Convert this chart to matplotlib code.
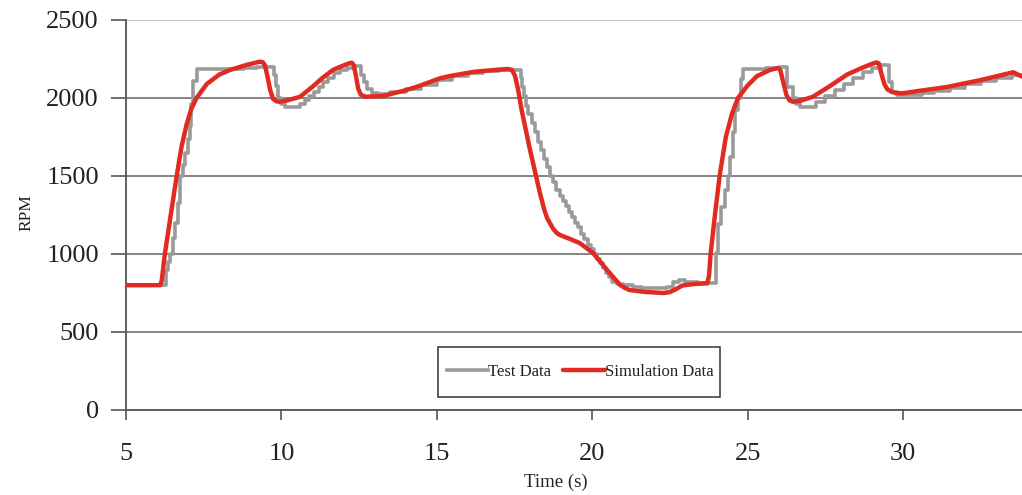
import matplotlib
matplotlib.use("Agg")
import matplotlib.pyplot as plt
from matplotlib.patches import Rectangle

# Engine speed test record (sampled, drawn as steps)
test_time = [5.0, 6.30, 6.36, 6.42, 6.50, 6.58, 6.66, 6.74, 6.82, 6.90, 6.98, 7.06,
             7.10, 7.16, 7.27, 8.00, 8.80, 9.20, 9.75, 9.82, 9.90, 10.00, 10.10,
             10.60, 10.75, 10.90, 11.05, 11.20, 11.35, 11.50, 11.70, 11.90, 12.10,
             12.35, 12.55, 12.65, 12.75, 12.90, 13.10, 13.50, 14.00, 14.50, 15.00,
             15.50, 16.00, 16.50, 17.00, 17.70, 17.75, 17.80, 17.88, 17.95, 18.05,
             18.15, 18.25, 18.35, 18.45, 18.55, 18.65, 18.75, 18.85, 18.95, 19.05,
             19.15, 19.25, 19.35, 19.45, 19.55, 19.65, 19.75, 19.85, 19.95, 20.05,
             20.15, 20.25, 20.35, 20.45, 20.55, 20.65, 20.80, 21.00, 21.30, 21.60,
             22.00, 22.40, 22.60, 22.80, 23.00, 23.40, 23.99, 24.05, 24.16, 24.26,
             24.37, 24.45, 24.53, 24.60, 24.70, 24.78, 24.85, 25.60, 26.00, 26.27,
             26.45, 26.55, 26.70, 26.85, 27.20, 27.50, 27.80, 28.10, 28.40, 28.70,
             29.00, 29.30, 29.55, 29.65, 29.80, 30.10, 30.60, 31.00, 31.50, 32.00,
             32.50, 33.00, 33.50, 33.90]
test_rpm = [800, 900, 950, 1000, 1100, 1200, 1330, 1500, 1570, 1650, 1740, 1820,
            1960, 2110, 2185, 2188, 2192, 2200, 2150, 2080, 2000, 1960, 1940,
            1960, 1990, 2010, 2040, 2070, 2100, 2130, 2160, 2180, 2195,
            2205, 2150, 2100, 2060, 2030, 2025, 2040, 2060, 2085, 2115,
            2140, 2160, 2175, 2182, 2130, 2070, 2010, 1950, 1900, 1840,
            1780, 1720, 1665, 1610, 1560, 1500, 1460, 1410, 1370, 1340,
            1305, 1270, 1235, 1200, 1170, 1130, 1095, 1060, 1035, 1000,
            970, 940, 910, 880, 850, 820, 810, 800, 790, 780,
            780, 790, 820, 835, 822, 812, 1006, 1190, 1300, 1410,
            1500, 1620, 1780, 1920, 2000, 2120, 2188, 2190, 2198, 2070,
            2000, 1960, 1942, 1945, 1975, 2010, 2050, 2090, 2130, 2168,
            2190, 2212, 2100, 2040, 2020, 2019, 2030, 2045, 2065, 2090,
            2110, 2130, 2148, 2150]

# Model output
sim_time = [5.0, 6.10, 6.15, 6.25, 6.44, 6.63, 6.79, 6.95, 7.10, 7.27, 7.60, 8.00,
            8.35, 8.88, 9.20, 9.31, 9.40, 9.47, 9.55, 9.64, 9.73, 9.85, 9.95,
            10.20, 10.60, 11.00, 11.30, 11.66, 11.95, 12.20, 12.27, 12.33, 12.40,
            12.47, 12.56, 12.70, 13.27, 14.00, 14.36, 15.10, 15.40, 16.20, 17.00,
            17.30, 17.42, 17.52, 17.62, 17.73, 18.00, 18.32, 18.45, 18.55, 18.64,
            18.75, 18.86, 18.96, 19.30, 19.60, 20.03, 20.48, 20.90, 21.05, 21.20,
            21.70, 22.30, 22.50, 22.70, 22.90, 23.30, 23.70, 23.76, 23.81, 23.95,
            24.10, 24.30, 24.50, 24.69, 25.00, 25.30, 25.72, 25.98, 26.05, 26.15,
            26.25, 26.35, 26.46, 26.70, 27.10, 27.60, 28.20, 28.70, 29.05, 29.15,
            29.22, 29.30, 29.40, 29.50, 29.65, 29.80, 30.00, 30.50, 31.40, 32.50,
            33.55, 33.83]
sim_rpm = [800, 800, 830, 1000, 1250, 1500, 1690, 1830, 1930, 2000, 2090, 2150,
           2180, 2212, 2228, 2233, 2230, 2210, 2140, 2050, 1995, 1978, 1976,
           1985, 2008, 2072, 2125, 2180, 2205, 2224, 2226, 2210, 2140,
           2060, 2020, 2008, 2013, 2050, 2072, 2126, 2140, 2168, 2182,
           2186, 2180, 2140, 2050, 1923, 1667, 1390, 1290, 1230, 1198,
           1160, 1135, 1122, 1095, 1070, 1006, 897, 801, 783, 769,
           757, 750, 756, 775, 798, 808, 812, 860, 1000, 1250,
           1500, 1750, 1900, 2000, 2080, 2140, 2180, 2192, 2180, 2100,
           2020, 1985, 1976, 1982, 2008, 2070, 2150, 2195, 2222, 2228,
           2222, 2160, 2090, 2055, 2038, 2032, 2030, 2045, 2070, 2115,
           2165, 2137]

x_ticks = [5, 10, 15, 20, 25, 30]
y_ticks = [0, 500, 1000, 1500, 2000, 2500]

serif = ["Liberation Serif", "DejaVu Serif"]
W, H = 1022, 495

fig = plt.figure(figsize=(W / 100, H / 100), dpi=100)
ax = fig.add_axes([126 / W, 1 - 410 / H, 1 - 126 / W, 390 / H])

ax.plot(test_time, test_rpm, drawstyle="steps-post", color="#9a9a9a",
        lw=2.6, label="Test Data", zorder=3)
ax.plot(sim_time, sim_rpm, color="#e02a22", lw=3.2, label="Simulation Data",
        zorder=4, solid_capstyle="round", solid_joinstyle="round")

ax.set_xlim(5, 33.83)
ax.set_ylim(0, 2500)
ax.set_xticks(x_ticks)
ax.set_yticks(y_ticks)

for side in ("top", "right"):
    ax.spines[side].set_visible(False)
for side in ("left", "bottom"):
    ax.spines[side].set_color("#555555")
    ax.spines[side].set_linewidth(1.3)

ax.yaxis.grid(True, color="#707070", lw=1.2)
ax.get_ygridlines()[-1].set_color("#b8b8b8")
ax.set_axisbelow(True)

ax.tick_params(axis="x", direction="out", length=7, width=1.2, color="#555555",
               pad=16.5, labelsize=19, labelcolor="#222222")
ax.tick_params(axis="y", direction="out", length=11, width=1.2, color="#555555",
               pad=8.5, labelsize=19, labelcolor="#222222")
for lab in ax.get_xticklabels() + ax.get_yticklabels():
    lab.set_fontfamily(serif)

fig.text(556 / W, 1 - 482 / H, "Time (s)", ha="center", va="center",
         fontsize=13.5, family=serif, color="#222222")
fig.text(26 / W, 1 - 213 / H, "RPM", ha="center", va="center", rotation=90,
         fontsize=12.5, family=serif, color="#222222")

leg = ax.legend(loc="center", bbox_to_anchor=(580 / W, 1 - 372 / H),
                bbox_transform=fig.transFigure, ncol=2, frameon=False,
                handlelength=2.5, handletextpad=0.0, columnspacing=0.7,
                prop={"family": serif, "size": 12})
for t in leg.get_texts():
    t.set_color("#222222")
fig.add_artist(Rectangle((438 / W, 1 - 397 / H), 282 / W, 50 / H,
                         transform=fig.transFigure, fill=False,
                         edgecolor="#333333", lw=1.1))

fig.savefig("out.png", dpi=100)
